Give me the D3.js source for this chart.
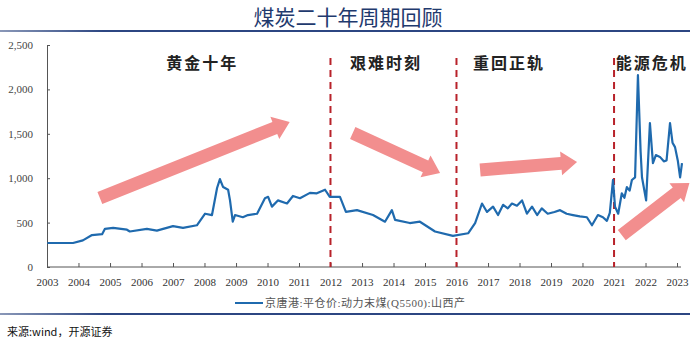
<!DOCTYPE html>
<html><head><meta charset="utf-8">
<script src="https://cdn.jsdelivr.net/npm/d3@7"></script>
<style>
html,body{margin:0;padding:0;background:#fff;}
svg{display:block;}
</style></head>
<body>
<script>
// ---- data ----
const dates = ["2003-01-05","2003-10-30","2004-02-21","2004-06-06","2004-10-01","2004-11-03","2005-02-06","2005-07-16","2005-08-18","2006-03-04","2006-06-28","2007-01-01","2007-04-27","2007-10-05","2008-01-08","2008-03-28","2008-05-26","2008-06-28","2008-08-04","2008-10-01","2008-10-23","2008-11-24","2008-12-20","2009-03-21","2009-05-19","2009-09-02","2009-12-02","2010-01-08","2010-02-21","2010-05-01","2010-08-15","2010-10-23","2011-01-12","2011-05-08","2011-07-27","2011-10-30","2011-12-24","2012-04-20","2012-06-28","2012-11-03","2013-05-08","2013-09-24","2013-12-13","2014-01-19","2014-07-09","2014-11-03","2015-04-27","2015-11-21","2016-05-15","2016-08-04","2016-10-23","2016-12-20","2017-02-28","2017-04-27","2017-06-25","2017-08-18","2017-10-05","2017-12-02","2018-01-30","2018-03-28","2018-05-26","2018-07-24","2018-09-16","2018-11-24","2019-02-10","2019-04-16","2019-07-01","2019-09-13","2019-12-01","2020-02-21","2020-04-20","2020-06-28","2020-08-25","2020-10-10","2020-11-13","2020-12-20","2021-01-12","2021-02-18","2021-04-01","2021-05-01","2021-05-30","2021-07-01","2021-07-27","2021-09-02","2021-10-05","2021-11-05","2021-11-21","2022-01-08","2022-02-21","2022-03-28","2022-05-01","2022-06-17","2022-08-01","2022-09-02","2022-10-12","2022-11-10","2022-12-09","2023-01-10","2023-02-06","2023-02-28"];
const prices = [270,270,300,360,370,430,440,420,400,430,410,460,440,470,600,585,890,990,900,870,750,510,585,560,585,600,775,790,680,750,715,800,775,835,830,870,790,790,620,640,585,510,640,530,495,510,400,350,380,495,715,620,680,585,700,660,715,690,750,600,680,585,660,600,620,640,600,585,570,560,470,585,560,520,610,980,680,600,830,780,900,860,980,1010,2160,1300,1010,750,1620,1170,1260,1240,1190,1200,1620,1400,1350,1200,1010,1170];
const yTicks = [0,500,1000,1500,2000,2500];
const xYears = d3.range(2003,2024);
const dividers = ["2012-01-01","2016-01-01","2021-01-01"];
const periodLabels = ["黄金十年","艰难时刻","重回正轨","能源危机"];
const periodLabelAt = ["2006-10-15","2012-08-15","2016-07-10","2021-01-20"];
// arrows: [tailDate, tailValue, tipDate, tipValue]
const arrowTail = [["2004-09-05",777],["2012-09-15",1509],["2016-10-01",1092],["2021-04-01",360]];
const arrowTip  = [["2010-09-15",1633],["2015-06-25",1059],["2019-10-30",1182],["2023-05-25",946]];
const title = "煤炭二十年周期回顾";
const legendText = "京唐港:平仓价:动力末煤(Q5500):山西产";
const sourceText = "来源:wind，开源证券";

// ---- setup ----
const W=700,H=342;
const parse = d3.timeParse("%Y-%m-%d");
const svg = d3.select("body").append("svg").attr("width",W).attr("height",H);

const x = d3.scaleTime().domain([new Date(2003,0,1), new Date(2023,0,1)]).range([47,677]);
const y = d3.scaleLinear().domain([0,2500]).range([267,45]);

// title
svg.append("text").attr("x",348).attr("y",25).attr("text-anchor","middle")
  .attr("font-family","'Noto Sans CJK SC',sans-serif").attr("font-size",21)
  .attr("fill","#1f3a6e").text(title);
const grad = svg.append("defs").append("linearGradient").attr("id","lg");
grad.append("stop").attr("offset","0%").attr("stop-color","#8a98b8");
grad.append("stop").attr("offset","15%").attr("stop-color","#2c4682");
grad.append("stop").attr("offset","100%").attr("stop-color","#2c4682");
svg.append("rect").attr("x",0).attr("y",30).attr("width",690).attr("height",2).attr("fill","url(#lg)");
svg.append("rect").attr("x",0).attr("y",313).attr("width",690).attr("height",2).attr("fill","url(#lg)");

// arrows
const arrowG = svg.append("g");
arrowTail.forEach((t,i)=>{
  const x0=x(parse(t[0])), y0=y(t[1]);
  const x1=x(parse(arrowTip[i][0])), y1=y(arrowTip[i][1]);
  const dx=x1-x0, dy=y1-y0, L=Math.hypot(dx,dy);
  const ux=dx/L, uy=dy/L, nx=-uy, ny=ux;
  const sw=6.5, hw=12, hl=16;
  const bx=x1-ux*hl, by=y1-uy*hl;
  const pts=[[x0+nx*sw,y0+ny*sw],[bx+nx*sw,by+ny*sw],[bx+nx*hw,by+ny*hw],[x1,y1],
             [bx-nx*hw,by-ny*hw],[bx-nx*sw,by-ny*sw],[x0-nx*sw,y0-ny*sw]];
  arrowG.append("polygon").attr("points",pts.map(p=>p.join(",")).join(" "))
    .attr("fill","#f28e8e");
});

// axes
const yAxis = d3.axisLeft(y).tickValues(yTicks).tickSizeInner(-3).tickSizeOuter(0).tickPadding(14)
  .tickFormat(d3.format(","));
const gy = svg.append("g").attr("transform","translate(47,0)").call(yAxis);
gy.select(".domain").attr("stroke","#555");
gy.selectAll(".tick line").attr("stroke","#555");
gy.selectAll("text").attr("font-family","'Liberation Serif',serif").attr("font-size",11).attr("fill","#444");

const xAxis = d3.axisBottom(x).tickValues(xYears.map(yr=>new Date(yr,0,1)))
  .tickFormat(d3.timeFormat("%Y")).tickSizeInner(-4).tickSizeOuter(0).tickPadding(11);
const gx = svg.append("g").attr("transform","translate(0,267)").call(xAxis);
gx.select(".domain").attr("stroke","#555").attr("d","M47,0H681");
gx.selectAll(".tick line").attr("stroke","#555");
gx.selectAll("text").attr("font-family","'Liberation Serif',serif").attr("font-size",11).attr("fill","#333");

// dividers
dividers.forEach(d=>{
  svg.append("line").attr("x1",x(parse(d))).attr("x2",x(parse(d)))
    .attr("y1",58).attr("y2",267).attr("stroke","#b8222a").attr("stroke-width",2)
    .attr("stroke-dasharray","7,5");
});

// line
const data = dates.map((d,i)=>({d:parse(d),v:prices[i]}));
svg.append("path").datum(data).attr("fill","none").attr("stroke","#1f6aae").attr("stroke-width",2.2)
  .attr("stroke-linejoin","round")
  .attr("d",d3.line().x(p=>x(p.d)).y(p=>y(p.v)));

// period labels
periodLabels.forEach((t,i)=>{
  svg.append("text").attr("x",x(parse(periodLabelAt[i]))).attr("y",69)
    .attr("font-family","'Noto Sans CJK SC',sans-serif").attr("font-weight",700)
    .attr("font-size",16).attr("letter-spacing",2).attr("fill","#222").text(t);
});

// legend
svg.append("line").attr("x1",235).attr("x2",263).attr("y1",303).attr("y2",303)
  .attr("stroke","#1f6aae").attr("stroke-width",2);
svg.append("text").attr("x",265).attr("y",307).attr("font-family","'Liberation Serif','Noto Sans CJK SC',serif")
  .attr("font-size",11).attr("fill","#555").attr("textLength",200).text(legendText);

// source
svg.append("text").attr("x",7).attr("y",336).attr("font-family","'Noto Sans CJK SC',sans-serif")
  .attr("font-size",11).attr("fill","#111").text(sourceText);
</script>
</body></html>
